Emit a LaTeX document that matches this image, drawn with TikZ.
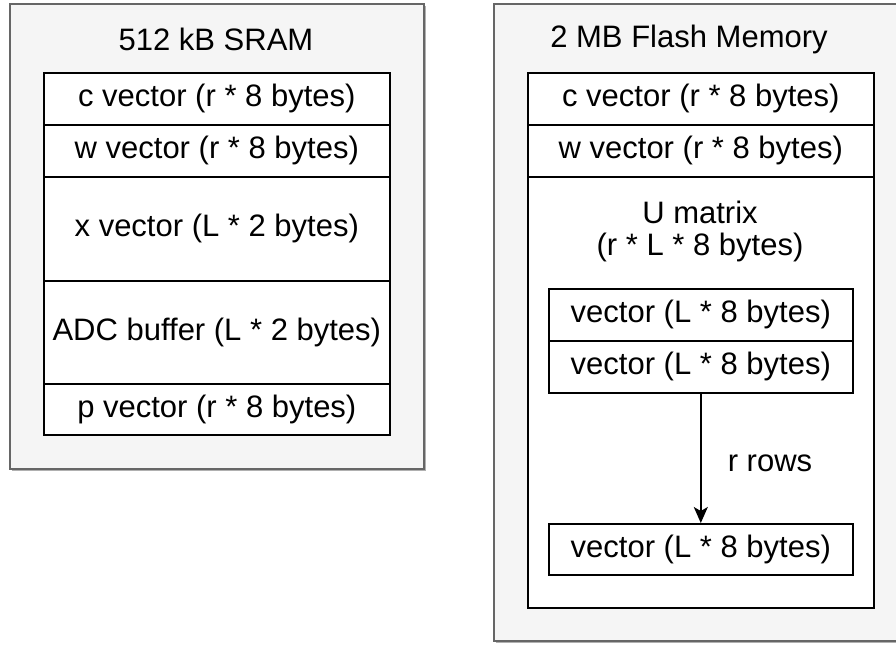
\documentclass[tikz,border=0pt]{standalone}
\usepackage{fontspec}
\setmainfont{Liberation Sans}
\usetikzlibrary{arrows.meta}
\definecolor{outerfill}{HTML}{F5F5F5}
\definecolor{outerdraw}{HTML}{666666}
\definecolor{shadowcol}{HTML}{B0B0B0}
\begin{document}
\begin{tikzpicture}[x=1pt,y=-1pt,
  cell/.style={draw=black, fill=white, line width=1.6pt, rectangle, inner sep=0pt,
    anchor=north west, font=\fontsize{31}{36}\selectfont, align=center, minimum width=#1},
  cell/.default=346pt,
  outerbox/.style={draw=outerdraw, fill=outerfill, line width=1.6pt, rectangle, inner sep=0pt, anchor=north west},
  shadowbox/.style={fill=shadowcol, rectangle, inner sep=0pt, anchor=north west},
  lbl/.style={font=\fontsize{31}{36}\selectfont, inner sep=0pt, align=center},
  arr/.style={line width=1.6pt, -{Stealth[length=16pt,width=14pt,inset=4pt]}}]
\clip (0,0) rectangle (896,646);
% left memory
\node[shadowbox, minimum width=414pt, minimum height=465pt] (ls) at (12,6) {};
\node[outerbox, minimum width=414pt, minimum height=465pt] (lo) at (9,3) {};
\node[lbl] (lt) at (216,39) {512 kB SRAM};
\node[cell, minimum height=52pt] (lc) at (43,72) {c vector (r * 8 bytes)};
\node[cell, minimum height=52pt] (lw) at (43,124) {w vector (r * 8 bytes)};
\node[cell, minimum height=104pt] (lx) at (43,176) {x vector (L * 2 bytes)};
\node[cell, minimum height=103pt] (la) at (43,280) {ADC buffer (L * 2 bytes)};
\node[cell, minimum height=51pt] (lp) at (43,383) {p vector (r * 8 bytes)};
% right memory
\node[shadowbox, minimum width=420pt, minimum height=637pt] (rs) at (496,6) {};
\node[outerbox, minimum width=420pt, minimum height=637pt] (ro) at (493,3) {};
\node[lbl] (rt) at (689,39) {2 MB Flash Memory};
\node[cell, minimum height=52pt] (rc) at (527,72) {c vector (r * 8 bytes)};
\node[cell, minimum height=52pt] (rw) at (527,124) {w vector (r * 8 bytes)};
\node[cell, minimum height=431pt] (ru) at (527,176) {};
\node[lbl] (ut1) at (700,212) {U matrix};
\node[lbl] (ut2) at (700,247) {(r * L * 8 bytes)};
\node[cell=304pt, minimum height=52pt] (v1) at (548,288) {vector (L * 8 bytes)};
\node[cell=304pt, minimum height=52pt] (v2) at (548,340) {vector (L * 8 bytes)};
\node[cell=304pt, minimum height=51pt] (v3) at (548,523) {vector (L * 8 bytes)};
\node[lbl] (rr) at (770,463) {r rows};
\draw[arr] (v2.south) -- (v3.north);
\end{tikzpicture}
\end{document}
